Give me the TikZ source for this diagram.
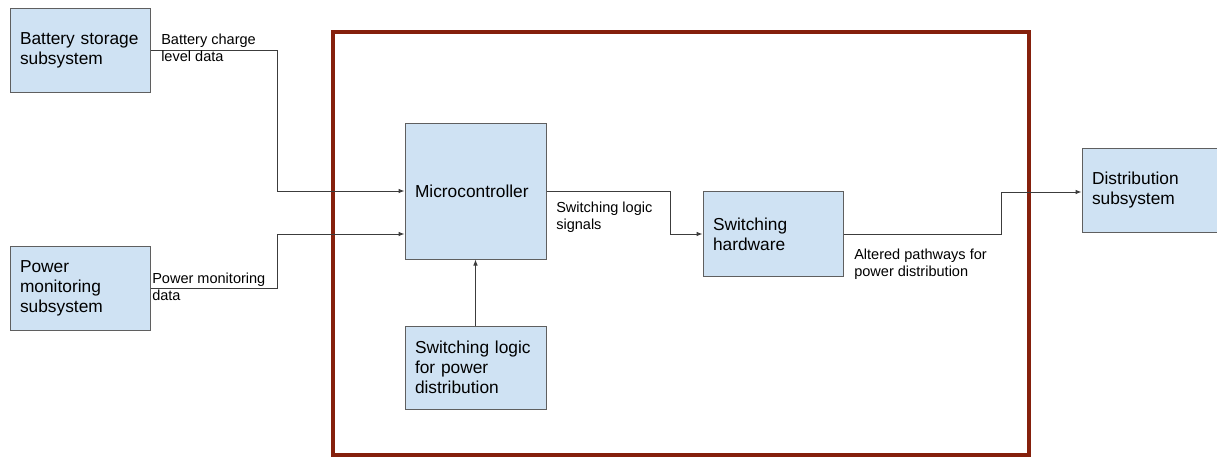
\documentclass[tikz,border=0pt]{standalone}
\usepackage{fontspec}
\setmainfont{Liberation Sans}
\usetikzlibrary{arrows.meta,calc}

\definecolor{boxfill}{RGB}{207,226,243}
\definecolor{boxline}{RGB}{95,95,95}
\definecolor{wire}{RGB}{60,60,60}
\definecolor{framered}{RGB}{133,32,12}

\begin{document}
\begin{tikzpicture}[x=0.75pt,y=0.75pt,yscale=-1,xscale=1,
  block/.style={draw=boxline,fill=boxfill,line width=0.75pt,rectangle,
    minimum width=105pt,minimum height=63pt,inner xsep=7.5pt,
    text width=90pt,align=left,font=\fontsize{13}{15}\selectfont},
  note/.style={anchor=north west,inner sep=0pt,align=left,
    font=\fontsize{10.9}{12.75}\selectfont},
  flow/.style={draw=wire,line width=0.75pt,-{Latex[length=4.5pt,width=3.5pt]}}]
\useasboundingbox (0,0) rectangle (1217,458);
\clip (0,0) rectangle (1217,458);

%Controller boundary
\draw [framered,line width=2.3pt] (333,32) rectangle (1029,455);

% Blocks
\node (batt) at (80,50) [block] {Battery storage\\subsystem};
\node (power) at (80,288) [block] {Power\\monitoring\\subsystem};
\node (micro) at (475.5,191) [block,minimum width=105.75pt,minimum height=102pt,text width=90.75pt] {Microcontroller};
\node (logic) at (475.5,367.5) [block,minimum width=105.75pt,minimum height=62.25pt,text width=90.75pt] {Switching logic\\for power\\distribution};
\node (hw) at (773,234) [block,minimum height=64pt] {Switching\\hardware};
\node (dist) at (1152,190.5) [block] {Distribution\\subsystem};

%Straight Lines
\draw [flow] (batt.east) -- ++(127,0) |- (micro.west);
\draw [flow] (power.east) -- ++(127,0) |- ($(micro.west)+(0,43)$);
\draw [flow] (logic.north) -- (micro.south);
\draw [flow] (micro.east) -- ++(124,0) |- (hw.west);
\draw [flow] (hw.east) -- ++(158,0) |- ($(dist.west)+(0,1.5)$);

% Text Node
\node (battlbl) at (161,34) [note] {Battery charge\\level data};
% Text Node
\node (powerlbl) at (152,273) [note] {Power monitoring\\data};
% Text Node
\node (siglbl) at (556,202) [note] {Switching logic\\signals};
% Text Node
\node (pathlbl) at (854,249) [note] {Altered pathways for\\power distribution};

\end{tikzpicture}
\end{document}
